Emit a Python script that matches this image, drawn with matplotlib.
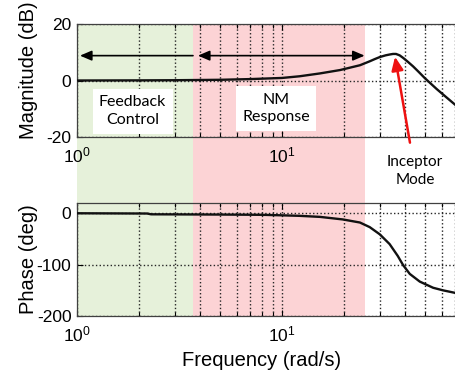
import matplotlib
matplotlib.use('Agg')
import matplotlib.pyplot as plt
from matplotlib.patches import Rectangle
from matplotlib.transforms import blended_transform_factory

plt.rcParams['font.family'] = ['Liberation Sans', 'DejaVu Sans']
plt.rcParams['mathtext.fontset'] = 'custom'
plt.rcParams['mathtext.rm'] = 'Liberation Sans'
plt.rcParams['mathtext.it'] = 'Liberation Sans:italic'
plt.rcParams['axes.unicode_minus'] = False

# magnitude response (rad/s, dB)
mag_freq = [1, 2, 3, 5, 7, 10, 12.2, 15.3, 19.2, 24, 26.8, 28.4, 30, 32, 33.5,
            34.8, 36, 37.5, 39, 41, 43.6, 46.5, 49.8, 56.8, 63.5, 70]
mag_db = [0, 0.05, 0.1, 0.25, 0.5, 0.9, 1.5, 2.5, 3.7, 5.4, 6.8, 7.6, 8.3, 8.9, 9.2,
          9.4, 9.4, 8.9, 8.0, 6.7, 5.0, 3.0, 0.8, -3.0, -6.0, -8.6]

# phase response (rad/s, deg)
ph_freq = [1, 2.2, 2.3, 5, 8, 10, 12.2, 15.3, 19.8, 24, 26.8, 30, 33.5, 36.7, 39,
           42, 47, 54.6, 61, 70]
ph_deg = [0, -0.5, -2, -2.5, -3, -4, -5, -7, -12, -18, -27, -41, -60, -83, -101,
          -118, -133, -145, -150, -155]

# frequency bands
fb_band = (1.0, 3.68)
nm_band = (3.68, 25.3)

fig = plt.figure(figsize=(4.55, 3.72), dpi=100)
ax_mag = fig.add_axes([0.1692, 0.6317, 0.9011, 0.3038])
ax_ph = fig.add_axes([0.1692, 0.1505, 0.9011, 0.3038], sharex=ax_mag)

for ax in (ax_mag, ax_ph):
    ax.set_facecolor('none')
    ax.set_xscale('log')
    ax.set_xlim(1, 100)
    ax.set_xticks([1, 10])
    ax.xaxis.grid(True, which='both', ls=':', color='0.15', lw=1.0)
    ax.yaxis.grid(True, which='major', ls=':', color='0.15', lw=1.0)
    ax.tick_params(which='both', direction='in', top=True, right=True,
                   labelsize=12.5, width=0.8, pad=4)
    ax.tick_params(which='major', length=4)
    ax.tick_params(which='minor', length=3)
    for s in ax.spines.values():
        s.set_color('0.25')
        s.set_linewidth(0.9)
    ax.tick_params(axis='x', labelbottom=True, pad=6)

# shaded bands running through both panels
ytrans = blended_transform_factory(ax_mag.transData, fig.transFigure)
y0 = 0.1505
y1 = 0.6317 + 0.3038
fig.add_artist(Rectangle((fb_band[0], y0), fb_band[1] - fb_band[0], y1 - y0,
                         transform=ytrans, facecolor='#e6f1da', edgecolor='none', zorder=-1))
fig.add_artist(Rectangle((nm_band[0], y0), nm_band[1] - nm_band[0], y1 - y0,
                         transform=ytrans, facecolor='#fcd3d5', edgecolor='none', zorder=-1))

# magnitude
ax_mag.plot(mag_freq, mag_db, color='#111111', lw=1.7, zorder=4)
ax_mag.set_ylim(-20, 20)
ax_mag.set_yticks([-20, 0, 20])
ax_mag.set_ylabel('Magnitude (dB)', fontsize=14.5)
ax_mag.yaxis.set_label_coords(-0.095, 0.59)

ax_mag.annotate('', xy=(1.034, 8.8), xytext=(fb_band[1], 8.8),
                arrowprops=dict(arrowstyle='-|>,head_length=0.7,head_width=0.3',
                                color='k', lw=1.2, mutation_scale=10,
                                shrinkA=0, shrinkB=0))
ax_mag.annotate('', xy=(3.89, 8.8), xytext=(nm_band[1], 8.8),
                arrowprops=dict(arrowstyle='<|-|>,head_length=0.7,head_width=0.3',
                                color='k', lw=1.2, mutation_scale=10,
                                shrinkA=0, shrinkB=0))

box = dict(boxstyle='square,pad=0.4', facecolor='white', edgecolor='none')
ax_mag.text(1.866, -10.9, 'Feedback\nControl', family=['Lato', 'DejaVu Sans'],
            fontsize=11.5, ha='center', va='center', linespacing=1.35,
            bbox=box, zorder=3)
ax_mag.text(9.35, -9.9, 'NM\nResponse', family=['Lato', 'DejaVu Sans'],
            fontsize=11.5, ha='center', va='center', linespacing=1.35,
            bbox=box, zorder=3)

# inceptor mode callout
ax_mag.annotate('', xy=(35.6, 8.4), xytext=(42.1, -22),
                arrowprops=dict(arrowstyle='-|>,head_length=0.8,head_width=0.35',
                                color='#ee1111', lw=1.8, mutation_scale=10,
                                shrinkA=0, shrinkB=0),
                annotation_clip=False, zorder=5)
ax_mag.text(44.5, -32, 'Inceptor\nMode', family=['Lato', 'DejaVu Sans'],
            fontsize=11, ha='center', va='center', linespacing=1.3, clip_on=False)

# phase
ax_ph.plot(ph_freq, ph_deg, color='#111111', lw=1.7, zorder=4)
ax_ph.set_ylim(-200, 20)
ax_ph.set_yticks([-200, -100, 0])
ax_ph.set_ylabel('Phase (deg)', fontsize=14.5)
ax_ph.yaxis.set_label_coords(-0.095, 0.5)
ax_ph.set_xlabel('Frequency (rad/s)', fontsize=14.5)
ax_ph.xaxis.set_label_coords(0.451, -0.31)

fig.savefig('out.png', dpi=100, facecolor='white')
